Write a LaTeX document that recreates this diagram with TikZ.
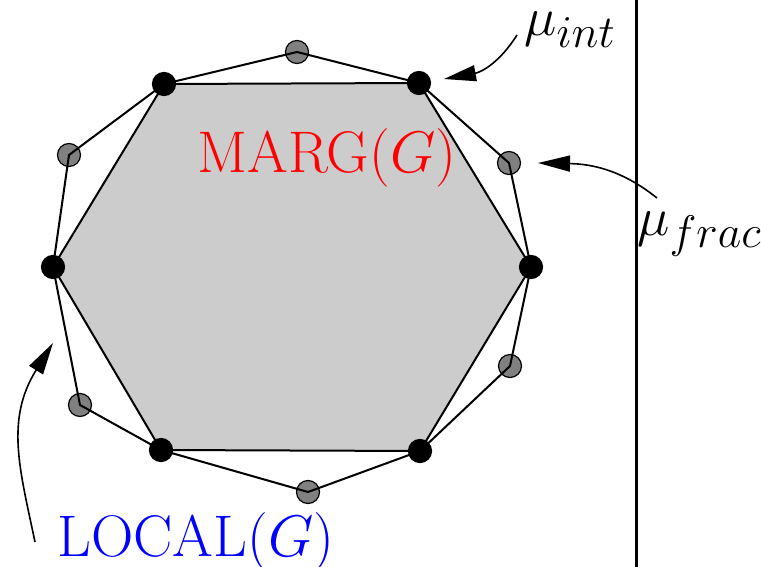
\documentclass[tikz,border=0pt]{standalone}
\usepackage{graphicx}
\usepackage{xcolor}
\usepackage{tikz}
\usetikzlibrary{arrows.meta,positioning,calc}
\definecolor{margfill}{HTML}{cccccc}
\definecolor{fracfill}{HTML}{808080}
\newcommand{\biglbl}[1]{\scalebox{1.18}{\Huge #1}}
\newcommand{\mulbl}[1]{\scalebox{1.1}{\Huge #1}}

\begin{document}
\begin{tikzpicture}[
    x=0.5pt, y=-0.5pt,
    intpt/.style={circle, draw=black, fill=black, inner sep=0pt,
                minimum size=11.5pt, line width=0.6pt},
    fracpt/.style={circle, draw=black, fill=fracfill, inner sep=0pt,
                minimum size=11.5pt, line width=0.6pt},
    edge/.style={line width=1pt, line join=round},
    pointer/.style={line width=0.8pt, -{Triangle[length=16pt,width=8pt]}},
    lbl/.style={inner sep=0pt},
]
\useasboundingbox (0,0) rectangle (761,567);

% corners of MARG(G)
\coordinate (p1) at (164,84);
\coordinate (p2) at (419,83);
\coordinate (p3) at (531,267);
\coordinate (p4) at (420,451);
\coordinate (p5) at (161,450);
\coordinate (p6) at (53,267);
% extra corners of LOCAL(G)
\coordinate (q1) at (297,52);
\coordinate (q2) at (509,163);
\coordinate (q3) at (510,366);
\coordinate (q4) at (308,492);
\coordinate (q5) at (80,405);
\coordinate (q6) at (69,155);

\fill[margfill] (p1) -- (p2) -- (p3) -- (p4) -- (p5) -- (p6) -- cycle;

\foreach \i in {1,...,6}
  \node[fracpt] (f\i) at (q\i) {};

\draw[edge] (p1) -- (p2) -- (p3) -- (p4) -- (p5) -- (p6) -- cycle;
\draw[edge] (p1) -- (f1.center) -- (p2) -- (f2.center) -- (p3) -- (f3.center)
    -- (p4) -- (f4.center) -- (p5) -- (f5.center) -- (p6) -- (f6.center) -- cycle;

\foreach \i in {1,...,6}
  \node[intpt] (v\i) at (p\i) {};

\coordinate (top) at (636,0);
\coordinate (bot) at (636,567);
\draw[line width=1.5pt] (top) -- (bot);

\node[lbl, text=red, anchor=base] (marg) at (327,173) {\biglbl{MARG$(G)$}};
\node[lbl, text=blue, anchor=base] (local) at (196,556) {\biglbl{LOCAL$(G)$}};
\node[lbl, anchor=base west] (muint) at (524,36) {\mulbl{$\mu_{int}$}};
\node[lbl, anchor=base west] (mufrac) at (637,235) {\mulbl{$\mu_{frac}$}};

\coordinate (a1) at (517,35);
\coordinate (a2) at (657,198);
\coordinate (a3) at (35,542);
\coordinate (t1) at (444,79);
\coordinate (t2) at (538,163);
\coordinate (t3) at (53,343);

\draw[pointer] (a1) .. controls (500,62) and (482,72) .. (t1);
\draw[pointer] (a2) .. controls (622,170) and (592,164) .. (t2);
\draw[pointer] (a3) .. controls (20,470) and (5,420) .. (t3);

\end{tikzpicture}
\end{document}
